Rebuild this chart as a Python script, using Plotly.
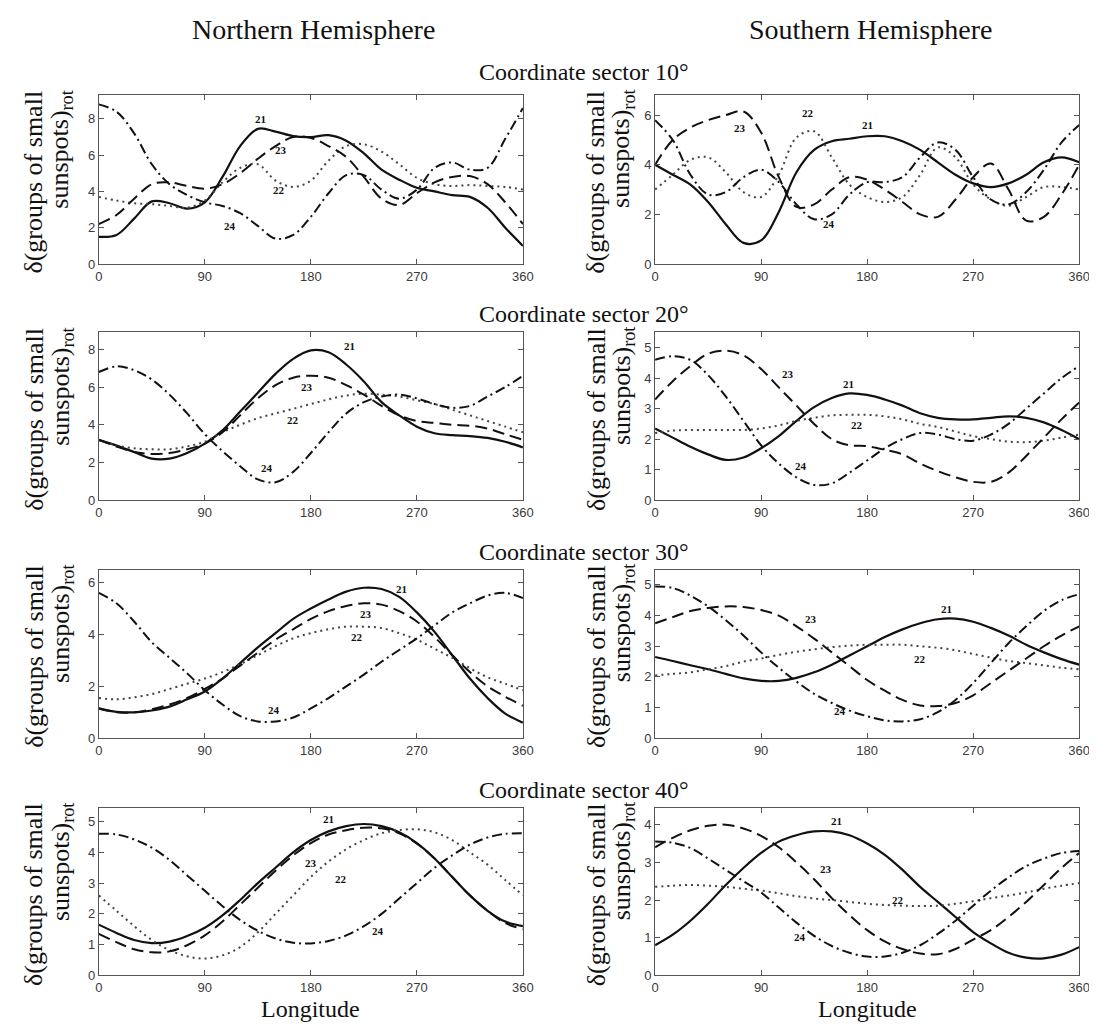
import plotly.graph_objects as go

# ---------------- data ----------------
lon = list(range(0, 361, 15))
cycles = ["21", "22", "23", "24"]

# Northern hemisphere, sector 10
N10_21 = [1.5, 1.6, 2.5, 3.45, 3.35, 3.05, 3.4, 4.8, 6.5, 7.45, 7.3, 7.05, 7.0, 7.1, 6.8, 6.1, 5.2, 4.65, 4.2, 4.0, 3.8, 3.7, 3.1, 2.0, 1.0]
N10_22 = [3.7, 3.5, 3.35, 3.3, 3.2, 3.1, 3.5, 4.5, 5.3, 5.5, 4.6, 4.25, 4.6, 5.7, 6.5, 6.6, 6.2, 5.5, 4.75, 4.4, 4.3, 4.35, 4.3, 4.25, 4.1]
N10_23 = [2.2, 2.7, 3.6, 4.4, 4.5, 4.3, 4.15, 4.4, 5.0, 5.8, 6.5, 7.0, 6.95, 6.5, 5.9, 4.8, 3.6, 3.25, 3.9, 4.5, 4.8, 4.85, 4.4, 3.4, 2.2]
N10_24 = [8.8, 8.4, 7.2, 5.5, 4.4, 3.8, 3.4, 3.2, 2.8, 2.1, 1.4, 1.6, 2.6, 3.9, 4.9, 4.9, 4.1, 3.6, 4.1, 5.3, 5.6, 5.2, 5.3, 6.9, 8.6]

# Southern hemisphere, sector 10
S10_21 = [4.0, 3.6, 3.2, 2.5, 1.6, 0.85, 0.95, 2.1, 3.7, 4.6, 4.95, 5.05, 5.15, 5.15, 4.95, 4.6, 4.1, 3.6, 3.25, 3.1, 3.25, 3.6, 4.1, 4.3, 4.1]
S10_22 = [3.0, 3.6, 4.2, 4.3, 3.7, 2.9, 2.7, 3.6, 5.1, 5.35, 4.3, 3.2, 2.7, 2.5, 2.7, 3.6, 4.7, 4.3, 3.2, 2.6, 2.35, 2.7, 3.1, 3.1, 3.0]
S10_23 = [4.0, 5.0, 5.5, 5.8, 6.0, 6.15, 5.3, 3.5, 2.3, 2.4, 3.0, 3.5, 3.4, 3.0, 2.5, 2.0, 1.9, 2.6, 3.5, 4.05, 3.0, 1.75, 1.9, 2.8, 4.0]
S10_24 = [5.8, 5.0, 3.6, 2.8, 2.9, 3.5, 3.8, 3.3, 2.4, 1.8, 2.0, 2.8, 3.3, 3.3, 3.5, 4.3, 4.9, 4.6, 3.5, 2.6, 2.4, 2.9, 3.8, 4.9, 5.6]

# Northern hemisphere, sector 20
N20_21 = [3.2, 2.9, 2.55, 2.2, 2.2, 2.5, 3.0, 3.7, 4.7, 5.7, 6.7, 7.5, 7.95, 7.85, 7.2, 6.3, 5.2, 4.5, 3.9, 3.55, 3.45, 3.4, 3.3, 3.1, 2.8]
N20_22 = [3.2, 2.9, 2.75, 2.7, 2.7, 2.85, 3.1, 3.6, 4.0, 4.35, 4.6, 4.85, 5.1, 5.35, 5.55, 5.65, 5.6, 5.5, 5.3, 5.1, 4.8, 4.5, 4.2, 3.9, 3.6]
N20_23 = [3.2, 2.85, 2.55, 2.45, 2.5, 2.7, 3.0, 3.6, 4.5, 5.4, 6.1, 6.5, 6.6, 6.5, 6.1, 5.6, 5.0, 4.5, 4.2, 4.1, 4.0, 3.95, 3.8, 3.5, 3.2]
N20_24 = [6.8, 7.1, 6.9, 6.4, 5.6, 4.6, 3.5, 2.6, 1.8, 1.1, 0.95, 1.5, 2.5, 3.6, 4.6, 5.2, 5.5, 5.6, 5.4, 5.1, 4.9, 5.0, 5.5, 6.0, 6.6]

# Southern hemisphere, sector 20
S20_21 = [2.35, 2.05, 1.75, 1.5, 1.32, 1.4, 1.7, 2.1, 2.6, 3.05, 3.35, 3.5, 3.45, 3.3, 3.1, 2.85, 2.7, 2.65, 2.65, 2.7, 2.75, 2.7, 2.55, 2.3, 2.0]
S20_22 = [2.2, 2.28, 2.3, 2.3, 2.3, 2.3, 2.35, 2.45, 2.6, 2.7, 2.78, 2.8, 2.8, 2.75, 2.65, 2.5, 2.4, 2.25, 2.1, 2.0, 1.92, 1.9, 1.95, 2.05, 2.15]
S20_23 = [3.3, 3.9, 4.4, 4.8, 4.9, 4.75, 4.3, 3.7, 3.1, 2.5, 2.0, 1.8, 1.77, 1.65, 1.5, 1.2, 0.95, 0.75, 0.6, 0.6, 0.9, 1.45, 2.05, 2.65, 3.2]
S20_24 = [4.6, 4.72, 4.6, 4.1, 3.4, 2.6, 1.8, 1.2, 0.75, 0.5, 0.55, 0.9, 1.3, 1.7, 2.0, 2.2, 2.15, 2.0, 1.95, 2.15, 2.5, 3.0, 3.5, 4.0, 4.4]

# Northern hemisphere, sector 30
N30_21 = [1.15, 1.02, 1.0, 1.07, 1.22, 1.5, 1.8, 2.3, 2.9, 3.5, 4.05, 4.6, 5.0, 5.35, 5.65, 5.8, 5.75, 5.45, 4.85, 4.1, 3.2, 2.3, 1.55, 0.95, 0.6]
N30_22 = [1.55, 1.5, 1.58, 1.7, 1.9, 2.1, 2.3, 2.55, 2.85, 3.2, 3.55, 3.85, 4.05, 4.2, 4.3, 4.3, 4.25, 4.05, 3.8, 3.45, 3.1, 2.7, 2.35, 2.1, 1.85]
N30_23 = [1.15, 1.0, 1.0, 1.12, 1.3, 1.55, 1.9, 2.3, 2.8, 3.3, 3.8, 4.2, 4.6, 4.9, 5.1, 5.2, 5.15, 4.9, 4.5, 3.9, 3.2, 2.55, 2.0, 1.6, 1.25]
N30_24 = [5.6, 5.2, 4.5, 3.7, 3.1, 2.5, 1.85, 1.3, 0.85, 0.65, 0.65, 0.8, 1.15, 1.55, 2.0, 2.45, 2.95, 3.4, 3.85, 4.35, 4.85, 5.2, 5.5, 5.6, 5.4]

# Southern hemisphere, sector 30
S30_21 = [2.65, 2.52, 2.38, 2.25, 2.1, 1.95, 1.87, 1.87, 1.97, 2.15, 2.4, 2.7, 3.0, 3.3, 3.55, 3.75, 3.88, 3.9, 3.8, 3.6, 3.35, 3.05, 2.8, 2.58, 2.4]
S30_22 = [2.05, 2.1, 2.15, 2.25, 2.35, 2.5, 2.6, 2.72, 2.82, 2.9, 2.97, 3.02, 3.05, 3.05, 3.05, 3.0, 2.95, 2.87, 2.75, 2.63, 2.52, 2.45, 2.38, 2.3, 2.25]
S30_23 = [3.75, 3.95, 4.15, 4.25, 4.3, 4.28, 4.18, 4.0, 3.65, 3.25, 2.8, 2.35, 1.9, 1.55, 1.25, 1.07, 1.05, 1.15, 1.4, 1.8, 2.2, 2.6, 3.0, 3.35, 3.65]
S30_24 = [4.95, 4.9, 4.65, 4.3, 3.85, 3.35, 2.8, 2.3, 1.85, 1.45, 1.15, 0.9, 0.72, 0.58, 0.55, 0.62, 0.85, 1.25, 1.8, 2.45, 3.1, 3.65, 4.15, 4.5, 4.7]

# Northern hemisphere, sector 40
N40_21 = [1.65, 1.38, 1.15, 1.05, 1.1, 1.28, 1.55, 1.95, 2.45, 3.0, 3.5, 4.0, 4.4, 4.68, 4.85, 4.92, 4.85, 4.65, 4.3, 3.8, 3.2, 2.6, 2.1, 1.75, 1.6]
N40_22 = [2.6, 2.1, 1.6, 1.15, 0.82, 0.62, 0.55, 0.65, 0.92, 1.4, 2.0, 2.6, 3.2, 3.7, 4.1, 4.4, 4.62, 4.72, 4.75, 4.65, 4.4, 4.0, 3.6, 3.1, 2.6]
N40_23 = [1.35, 1.08, 0.85, 0.75, 0.78, 0.98, 1.3, 1.75, 2.3, 2.85, 3.4, 3.9, 4.3, 4.58, 4.72, 4.8, 4.78, 4.62, 4.28, 3.8, 3.2, 2.6, 2.1, 1.7, 1.5]
N40_24 = [4.6, 4.58, 4.42, 4.15, 3.75, 3.25, 2.75, 2.25, 1.8, 1.45, 1.2, 1.06, 1.04, 1.12, 1.3, 1.6, 2.0, 2.5, 3.0, 3.5, 3.9, 4.25, 4.48, 4.6, 4.62]

# Southern hemisphere, sector 40
S40_21 = [0.8, 1.08, 1.45, 1.9, 2.4, 2.85, 3.25, 3.55, 3.72, 3.82, 3.82, 3.72, 3.5, 3.2, 2.8, 2.35, 1.95, 1.55, 1.15, 0.85, 0.6, 0.47, 0.45, 0.55, 0.75]
S40_22 = [2.35, 2.38, 2.4, 2.38, 2.35, 2.3, 2.25, 2.18, 2.1, 2.04, 2.0, 1.95, 1.9, 1.87, 1.85, 1.84, 1.85, 1.9, 1.97, 2.05, 2.12, 2.2, 2.3, 2.38, 2.45]
S40_23 = [3.4, 3.65, 3.85, 3.97, 4.0, 3.9, 3.7, 3.4, 3.0, 2.55, 2.05, 1.6, 1.2, 0.9, 0.7, 0.58, 0.56, 0.7, 0.95, 1.2, 1.55, 1.95, 2.4, 2.85, 3.25]
S40_24 = [3.55, 3.52, 3.38, 3.1, 2.8, 2.5, 2.2, 1.8, 1.4, 1.05, 0.78, 0.6, 0.5, 0.5, 0.6, 0.8, 1.1, 1.45, 1.85, 2.25, 2.6, 2.9, 3.1, 3.25, 3.3]

x_ticks = [0, 90, 180, 270, 360]
sector_titles = ["Coordinate sector 10°", "Coordinate sector 20°",
                 "Coordinate sector 30°", "Coordinate sector 40°"]
hemi_titles = ["Northern Hemisphere", "Southern Hemisphere"]
ylabel_lines = ["δ(groups of small", "sunspots)<sub>rot</sub>"]

# ---------------- layout/config (not data) ----------------
W, H = 1097, 1025
col_px = [(88, 518), (652, 1082)]
row_px = [(88, 258), (327, 496), (566, 736), (806, 975)]
ylabel_x = [(22, 50), (592, 619)]

panels = [
    dict(series=[N10_21, N10_22, N10_23, N10_24], ymax=9.3, yt=[0, 2, 4, 6, 8],
         labels=[(137, 8.0), (153, 4.1), (155, 6.3), (111, 2.1)]),
    dict(series=[S10_21, S10_22, S10_23, S10_24], ymax=6.8, yt=[0, 2, 4, 6],
         labels=[(180, 5.6), (130, 6.1), (72, 5.5), (148, 1.6)]),
    dict(series=[N20_21, N20_22, N20_23, N20_24], ymax=8.9, yt=[0, 2, 4, 6, 8],
         labels=[(213, 8.2), (165, 4.25), (177, 6.0), (143, 1.7)]),
    dict(series=[S20_21, S20_22, S20_23, S20_24], ymax=5.5, yt=[0, 1, 2, 3, 4, 5],
         labels=[(164, 3.8), (171, 2.48), (113, 4.13), (124, 1.12)]),
    dict(series=[N30_21, N30_22, N30_23, N30_24], ymax=6.5, yt=[0, 2, 4, 6],
         labels=[(257, 5.77), (219, 3.9), (227, 4.8), (149, 1.1)]),
    dict(series=[S30_21, S30_22, S30_23, S30_24], ymax=5.5, yt=[0, 1, 2, 3, 4, 5],
         labels=[(247, 4.2), (225, 2.6), (132, 3.9), (157, 0.9)]),
    dict(series=[N40_21, N40_22, N40_23, N40_24], ymax=5.45, yt=[0, 1, 2, 3, 4, 5],
         labels=[(195, 5.08), (206, 3.12), (180, 3.64), (237, 1.45)]),
    dict(series=[S40_21, S40_22, S40_23, S40_24], ymax=4.45, yt=[0, 1, 2, 3, 4],
         labels=[(154, 4.1), (206, 2.0), (145, 2.82), (123, 1.03)]),
]

styles = [
    dict(color="#111111", width=2.2, dash="solid"),
    dict(color="#444444", width=2.0, dash="2px,4px"),
    dict(color="#111111", width=2.0, dash="12px,6px"),
    dict(color="#111111", width=2.0, dash="10px,4px,2px,4px"),
]

SERIF = "Liberation Serif"
SANS = "Liberation Sans"

fig = go.Figure()
layout = dict(width=W, height=H, margin=dict(l=0, r=0, t=0, b=0),
              paper_bgcolor="white", plot_bgcolor="white", showlegend=False)
annotations = []


def paper_text(px, py, text, size, angle=0, yanchor="middle"):
    return dict(x=px / W, y=1 - py / H, xref="paper", yref="paper",
                xanchor="center", yanchor=yanchor, showarrow=False,
                textangle=angle, align="center", text=text,
                font=dict(family=SERIF, size=size, color="#111111"))


for i, p in enumerate(panels):
    n = i + 1
    r, c = divmod(i, 2)
    x0, x1 = col_px[c]
    t, b = row_px[r]
    xname = "xaxis" if n == 1 else f"xaxis{n}"
    yname = "yaxis" if n == 1 else f"yaxis{n}"
    xref = "x" if n == 1 else f"x{n}"
    yref = "y" if n == 1 else f"y{n}"
    for k, ser in enumerate(p["series"]):
        fig.add_trace(go.Scatter(
            x=lon, y=ser, mode="lines", xaxis=xref, yaxis=yref,
            line=dict(shape="spline", smoothing=1.0, **styles[k]),
            hoverinfo="skip"))
    axis_common = dict(showgrid=False, zeroline=False, showline=True, mirror="ticks",
                       linecolor="#555555", linewidth=1, ticks="inside", ticklen=5,
                       tickcolor="#555555",
                       tickfont=dict(family=SANS, size=13, color="#3a3a3a"))
    layout[xname] = dict(domain=[x0 / W, x1 / W], range=[0, 360], tickvals=x_ticks,
                         anchor=yref, **axis_common)
    layout[yname] = dict(domain=[1 - b / H, 1 - t / H], range=[0, p["ymax"]],
                         tickvals=p["yt"], anchor=xref, **axis_common)
    for k, (lx, ly) in enumerate(p["labels"]):
        annotations.append(dict(x=lx, y=ly, xref=xref, yref=yref, showarrow=False,
                                xanchor="center", yanchor="middle",
                                text=f"<b>{cycles[k]}</b>",
                                font=dict(family=SERIF, size=11, color="#111111")))
    # y-axis title: two rotated lines, aligned at their upper end
    for li, line in enumerate(ylabel_lines):
        annotations.append(paper_text(ylabel_x[c][li], t - 7, line, 26, -90, "top"))
    if r == 3:
        annotations.append(paper_text((x0 + x1) / 2, 1009, "Longitude", 24))

for c, txt in enumerate(hemi_titles):
    annotations.append(paper_text([306, 870][c], 22, txt, 28))
for r, txt in enumerate(sector_titles):
    annotations.append(paper_text(580, [64, 308, 548, 788][r], txt, 24))

layout["annotations"] = annotations
fig.update_layout(**layout)
fig.write_html("out.html")
